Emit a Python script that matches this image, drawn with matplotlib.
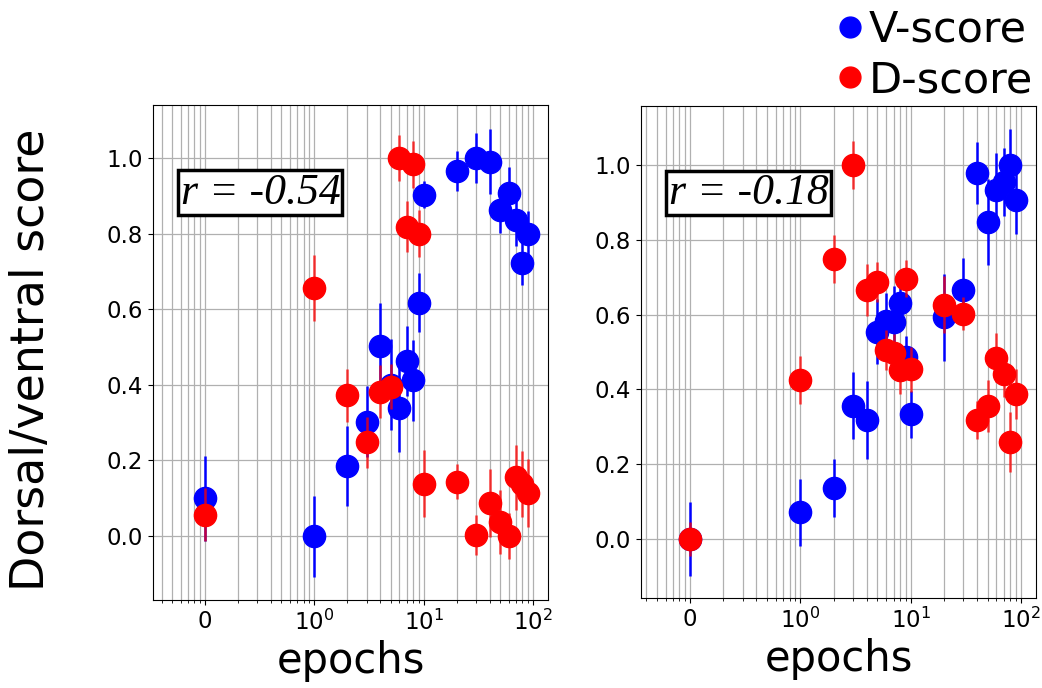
import numpy as np
import matplotlib
matplotlib.use('Agg')
import matplotlib.pyplot as plt
from matplotlib.lines import Line2D
from matplotlib.ticker import NullFormatter

# epoch 0 is drawn at 0.1 on the log axis and labelled "0"
epochs = [0, 1, 2, 3, 4, 5, 6, 7, 8, 9, 10, 20, 30, 40, 50, 60, 70, 80, 90]

v_left = [0.10, 0.00, 0.185, 0.303, 0.503, 0.40, 0.34, 0.463, 0.412, 0.617,
          0.903, 0.966, 1.00, 0.99, 0.862, 0.907, 0.836, 0.723, 0.80]
v_left_err = [0.113, 0.107, 0.105, 0.094, 0.113, 0.12, 0.118, 0.093, 0.107,
              0.078, 0.035, 0.053, 0.067, 0.086, 0.06, 0.07, 0.07, 0.06, 0.06]
d_left = [0.056, 0.656, 0.372, 0.248, 0.382, 0.395, 1.00, 0.818, 0.983, 0.80,
          0.139, 0.144, 0.003, 0.088, 0.038, 0.0, 0.155, 0.138, 0.113]
d_left_err = [0.07, 0.087, 0.07, 0.068, 0.07, 0.06, 0.06, 0.067, 0.063, 0.063,
              0.089, 0.047, 0.053, 0.09, 0.085, 0.06, 0.086, 0.088, 0.09]

v_right = [0.0, 0.071, 0.136, 0.356, 0.318, 0.554, 0.583, 0.58, 0.63, 0.487,
           0.334, 0.593, 0.666, 0.978, 0.848, 0.933, 0.955, 1.0, 0.906]
v_right_err = [0.1, 0.089, 0.078, 0.09, 0.105, 0.087, 0.075, 0.097, 0.065,
               0.056, 0.063, 0.117, 0.085, 0.083, 0.115, 0.1, 0.09, 0.096, 0.09]
d_right = [0.0, 0.425, 0.749, 1.0, 0.665, 0.688, 0.505, 0.497, 0.452, 0.696,
           0.454, 0.627, 0.603, 0.318, 0.356, 0.485, 0.44, 0.26, 0.388]
d_right_err = [0.045, 0.064, 0.064, 0.064, 0.07, 0.053, 0.054, 0.05, 0.064,
               0.05, 0.06, 0.076, 0.045, 0.05, 0.07, 0.065, 0.06, 0.08, 0.067]

r_values = ['-0.54', '-0.18']
xtick_labels = ['0', r'$10^{0}$', r'$10^{1}$', r'$10^{2}$']

x = np.array(epochs, dtype=float)
x[x == 0] = 0.1

fig = plt.figure(figsize=(10.42, 6.88), dpi=100)
ax1 = fig.add_axes([0.1468, 0.1279, 0.3791, 0.7195])
ax2 = fig.add_axes([0.6152, 0.1308, 0.3790, 0.7151])

panels = [(ax1, v_left, v_left_err, d_left, d_left_err, (0.0334, 137), (-0.169, 1.14)),
          (ax2, v_right, v_right_err, d_right, d_right_err, (0.0359, 137), (-0.158, 1.158))]

for i, (ax, v, ve, d, de, xl, yl) in enumerate(panels):
    ax.errorbar(x, v, yerr=ve, fmt='o', color='blue', ecolor='blue',
                ms=16, elinewidth=1.8, zorder=3)
    ax.errorbar(x, d, yerr=de, fmt='o', color='red', ecolor=(1, 0, 0, 0.75),
                ms=16, elinewidth=1.8, zorder=4)
    ax.set_xscale('log')
    ax.set_xlim(*xl)
    ax.set_ylim(*yl)
    ax.set_xticks([0.1, 1, 10, 100], xtick_labels)
    ax.xaxis.set_minor_formatter(NullFormatter())
    ax.set_yticks([0.0, 0.2, 0.4, 0.6, 0.8, 1.0])
    ax.tick_params(labelsize=16.5)
    ax.grid(True, which='both', color='#b0b0b0', lw=0.9)
    ax.set_axisbelow(True)
    ax.set_xlabel('epochs', fontsize=30, labelpad=4)
    ax.text(0.272, 0.823, 'r = ' + r_values[i], transform=ax.transAxes,
            ha='center', va='center', fontsize=31.5, style='italic',
            family='Liberation Serif', zorder=6,
            bbox=dict(facecolor='white', edgecolor='black', lw=2.5, pad=1.5))

fig.text(0.03, 0.477, 'Dorsal/ventral score', rotation=90, fontsize=33,
         ha='center', va='center')

handles = [Line2D([], [], marker='o', ls='', color='blue', ms=15),
           Line2D([], [], marker='o', ls='', color='red', ms=15)]
fig.legend(handles, ['V-score', 'D-score'], loc='upper right',
           bbox_to_anchor=(1.0, 1.0), frameon=False, fontsize=31,
           handlelength=0.6, handletextpad=0.15, labelspacing=0.2,
           borderpad=0.15, borderaxespad=0.05)

fig.savefig('out.png', dpi=100)
